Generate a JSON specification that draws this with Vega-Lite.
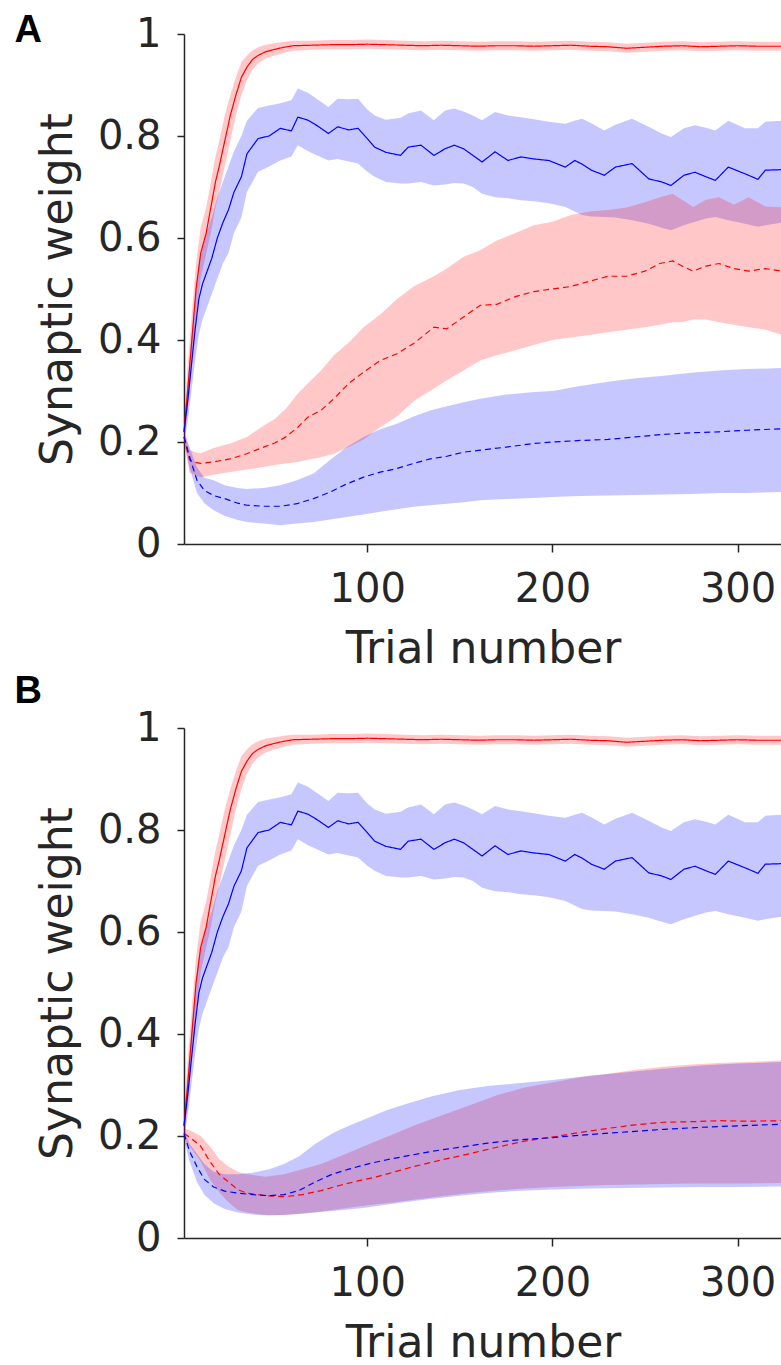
{
  "$schema": "https://vega.github.io/schema/vega-lite/v6.json",
  "background": "white",
  "padding": {"left": 14, "top": 12, "right": 0, "bottom": 0},
  "config": {
    "view": {"stroke": null},
    "concat": {"spacing": 2},
    "axis": {"labelFont": "DejaVu Sans", "labelFontSize": 40, "labelColor": "#262626", "titleFont": "DejaVu Sans", "titleFontSize": 44, "titleFontWeight": "normal", "titleColor": "#262626", "domainColor": "#262626", "tickColor": "#262626", "domainWidth": 1.5, "tickWidth": 1.5, "grid": false},
    "axisX": {"tickSize": 8, "labelPadding": 17, "titlePadding": 18},
    "axisY": {"tickSize": 7, "labelPadding": 16, "titlePadding": 17},
    "title": {"font": "Liberation Sans", "fontSize": 38, "fontWeight": "bold", "color": "black", "anchor": "start", "frame": "bounds"}
  },
  "datasets": {
    "d": [
      {"p":"both","g":"rs","c":"r","k":"s","x":1,"y":0.22,"lo":0.2,"hi":0.24},
      {"p":"both","g":"rs","c":"r","k":"s","x":3,"y":0.3,"lo":0.26,"hi":0.35},
      {"p":"both","g":"rs","c":"r","k":"s","x":5,"y":0.39,"lo":0.34,"hi":0.44},
      {"p":"both","g":"rs","c":"r","k":"s","x":7.5,"y":0.5,"lo":0.44,"hi":0.55},
      {"p":"both","g":"rs","c":"r","k":"s","x":10,"y":0.57,"lo":0.52,"hi":0.62},
      {"p":"both","g":"rs","c":"r","k":"s","x":13,"y":0.61,"lo":0.57,"hi":0.66},
      {"p":"both","g":"rs","c":"r","k":"s","x":15.5,"y":0.66,"lo":0.61,"hi":0.71},
      {"p":"both","g":"rs","c":"r","k":"s","x":18,"y":0.71,"lo":0.66,"hi":0.76},
      {"p":"both","g":"rs","c":"r","k":"s","x":20,"y":0.74,"lo":0.69,"hi":0.79},
      {"p":"both","g":"rs","c":"r","k":"s","x":23,"y":0.79,"lo":0.74,"hi":0.84},
      {"p":"both","g":"rs","c":"r","k":"s","x":26,"y":0.84,"lo":0.79,"hi":0.88},
      {"p":"both","g":"rs","c":"r","k":"s","x":29,"y":0.88,"lo":0.84,"hi":0.915},
      {"p":"both","g":"rs","c":"r","k":"s","x":32,"y":0.915,"lo":0.88,"hi":0.945},
      {"p":"both","g":"rs","c":"r","k":"s","x":35,"y":0.935,"lo":0.91,"hi":0.958},
      {"p":"both","g":"rs","c":"r","k":"s","x":38,"y":0.95,"lo":0.93,"hi":0.968},
      {"p":"both","g":"rs","c":"r","k":"s","x":41,"y":0.958,"lo":0.942,"hi":0.974},
      {"p":"both","g":"rs","c":"r","k":"s","x":45,"y":0.965,"lo":0.952,"hi":0.979},
      {"p":"both","g":"rs","c":"r","k":"s","x":50,"y":0.97,"lo":0.958,"hi":0.982},
      {"p":"both","g":"rs","c":"r","k":"s","x":55,"y":0.974,"lo":0.963,"hi":0.985},
      {"p":"both","g":"rs","c":"r","k":"s","x":60,"y":0.977,"lo":0.967,"hi":0.987},
      {"p":"both","g":"rs","c":"r","k":"s","x":70,"y":0.978,"lo":0.969,"hi":0.987},
      {"p":"both","g":"rs","c":"r","k":"s","x":80,"y":0.979,"lo":0.97,"hi":0.988},
      {"p":"both","g":"rs","c":"r","k":"s","x":90,"y":0.979,"lo":0.97,"hi":0.988},
      {"p":"both","g":"rs","c":"r","k":"s","x":100,"y":0.98,"lo":0.971,"hi":0.989},
      {"p":"both","g":"rs","c":"r","k":"s","x":110,"y":0.979,"lo":0.97,"hi":0.988},
      {"p":"both","g":"rs","c":"r","k":"s","x":120,"y":0.978,"lo":0.969,"hi":0.987},
      {"p":"both","g":"rs","c":"r","k":"s","x":130,"y":0.977,"lo":0.968,"hi":0.986},
      {"p":"both","g":"rs","c":"r","k":"s","x":140,"y":0.978,"lo":0.969,"hi":0.987},
      {"p":"both","g":"rs","c":"r","k":"s","x":150,"y":0.977,"lo":0.968,"hi":0.986},
      {"p":"both","g":"rs","c":"r","k":"s","x":160,"y":0.976,"lo":0.967,"hi":0.985},
      {"p":"both","g":"rs","c":"r","k":"s","x":170,"y":0.977,"lo":0.968,"hi":0.986},
      {"p":"both","g":"rs","c":"r","k":"s","x":180,"y":0.977,"lo":0.968,"hi":0.986},
      {"p":"both","g":"rs","c":"r","k":"s","x":190,"y":0.976,"lo":0.967,"hi":0.985},
      {"p":"both","g":"rs","c":"r","k":"s","x":200,"y":0.977,"lo":0.968,"hi":0.986},
      {"p":"both","g":"rs","c":"r","k":"s","x":210,"y":0.978,"lo":0.969,"hi":0.987},
      {"p":"both","g":"rs","c":"r","k":"s","x":220,"y":0.976,"lo":0.967,"hi":0.985},
      {"p":"both","g":"rs","c":"r","k":"s","x":230,"y":0.975,"lo":0.966,"hi":0.984},
      {"p":"both","g":"rs","c":"r","k":"s","x":240,"y":0.972,"lo":0.963,"hi":0.981},
      {"p":"both","g":"rs","c":"r","k":"s","x":250,"y":0.974,"lo":0.965,"hi":0.983},
      {"p":"both","g":"rs","c":"r","k":"s","x":260,"y":0.976,"lo":0.967,"hi":0.985},
      {"p":"both","g":"rs","c":"r","k":"s","x":270,"y":0.977,"lo":0.968,"hi":0.986},
      {"p":"both","g":"rs","c":"r","k":"s","x":280,"y":0.975,"lo":0.966,"hi":0.984},
      {"p":"both","g":"rs","c":"r","k":"s","x":290,"y":0.976,"lo":0.967,"hi":0.985},
      {"p":"both","g":"rs","c":"r","k":"s","x":300,"y":0.977,"lo":0.968,"hi":0.986},
      {"p":"both","g":"rs","c":"r","k":"s","x":310,"y":0.976,"lo":0.967,"hi":0.985},
      {"p":"both","g":"rs","c":"r","k":"s","x":324,"y":0.976,"lo":0.967,"hi":0.985},

      {"p":"both","g":"bs","c":"b","k":"s","x":1,"y":0.22,"lo":0.2,"hi":0.24},
      {"p":"both","g":"bs","c":"b","k":"s","x":3,"y":0.28,"lo":0.24,"hi":0.32},
      {"p":"both","g":"bs","c":"b","k":"s","x":5,"y":0.35,"lo":0.3,"hi":0.4},
      {"p":"both","g":"bs","c":"b","k":"s","x":7,"y":0.42,"lo":0.36,"hi":0.48},
      {"p":"both","g":"bs","c":"b","k":"s","x":9,"y":0.48,"lo":0.41,"hi":0.55},
      {"p":"both","g":"bs","c":"b","k":"s","x":11,"y":0.51,"lo":0.44,"hi":0.58},
      {"p":"both","g":"bs","c":"b","k":"s","x":13,"y":0.53,"lo":0.46,"hi":0.61},
      {"p":"both","g":"bs","c":"b","k":"s","x":16,"y":0.56,"lo":0.49,"hi":0.64},
      {"p":"both","g":"bs","c":"b","k":"s","x":19,"y":0.6,"lo":0.52,"hi":0.68},
      {"p":"both","g":"bs","c":"b","k":"s","x":22,"y":0.63,"lo":0.55,"hi":0.71},
      {"p":"both","g":"bs","c":"b","k":"s","x":25,"y":0.655,"lo":0.57,"hi":0.74},
      {"p":"both","g":"bs","c":"b","k":"s","x":28,"y":0.69,"lo":0.61,"hi":0.77},
      {"p":"both","g":"bs","c":"b","k":"s","x":32,"y":0.72,"lo":0.64,"hi":0.8},
      {"p":"both","g":"bs","c":"b","k":"s","x":35,"y":0.765,"lo":0.69,"hi":0.83},
      {"p":"both","g":"bs","c":"b","k":"s","x":41,"y":0.795,"lo":0.73,"hi":0.855},
      {"p":"both","g":"bs","c":"b","k":"s","x":47,"y":0.8,"lo":0.74,"hi":0.86},
      {"p":"both","g":"bs","c":"b","k":"s","x":53,"y":0.815,"lo":0.752,"hi":0.864},
      {"p":"both","g":"bs","c":"b","k":"s","x":59,"y":0.81,"lo":0.76,"hi":0.87},
      {"p":"both","g":"bs","c":"b","k":"s","x":62.5,"y":0.837,"lo":0.782,"hi":0.893},
      {"p":"both","g":"bs","c":"b","k":"s","x":68,"y":0.831,"lo":0.77,"hi":0.885},
      {"p":"both","g":"bs","c":"b","k":"s","x":73,"y":0.82,"lo":0.762,"hi":0.872},
      {"p":"both","g":"bs","c":"b","k":"s","x":79,"y":0.805,"lo":0.752,"hi":0.857},
      {"p":"both","g":"bs","c":"b","k":"s","x":84,"y":0.818,"lo":0.755,"hi":0.873},
      {"p":"both","g":"bs","c":"b","k":"s","x":90,"y":0.812,"lo":0.75,"hi":0.872},
      {"p":"both","g":"bs","c":"b","k":"s","x":95,"y":0.815,"lo":0.746,"hi":0.873},
      {"p":"both","g":"bs","c":"b","k":"s","x":100,"y":0.795,"lo":0.73,"hi":0.852},
      {"p":"both","g":"bs","c":"b","k":"s","x":104,"y":0.778,"lo":0.72,"hi":0.84},
      {"p":"both","g":"bs","c":"b","k":"s","x":110,"y":0.768,"lo":0.71,"hi":0.832},
      {"p":"both","g":"bs","c":"b","k":"s","x":118,"y":0.762,"lo":0.707,"hi":0.836},
      {"p":"both","g":"bs","c":"b","k":"s","x":122,"y":0.778,"lo":0.707,"hi":0.844},
      {"p":"both","g":"bs","c":"b","k":"s","x":129,"y":0.782,"lo":0.71,"hi":0.85},
      {"p":"both","g":"bs","c":"b","k":"s","x":136,"y":0.762,"lo":0.703,"hi":0.831},
      {"p":"both","g":"bs","c":"b","k":"s","x":142,"y":0.775,"lo":0.705,"hi":0.85},
      {"p":"both","g":"bs","c":"b","k":"s","x":147,"y":0.782,"lo":0.708,"hi":0.854},
      {"p":"both","g":"bs","c":"b","k":"s","x":152,"y":0.775,"lo":0.707,"hi":0.848},
      {"p":"both","g":"bs","c":"b","k":"s","x":157,"y":0.762,"lo":0.7,"hi":0.84},
      {"p":"both","g":"bs","c":"b","k":"s","x":162,"y":0.749,"lo":0.687,"hi":0.831},
      {"p":"both","g":"bs","c":"b","k":"s","x":169,"y":0.769,"lo":0.68,"hi":0.847},
      {"p":"both","g":"bs","c":"b","k":"s","x":176,"y":0.752,"lo":0.678,"hi":0.84},
      {"p":"both","g":"bs","c":"b","k":"s","x":183,"y":0.759,"lo":0.674,"hi":0.837},
      {"p":"both","g":"bs","c":"b","k":"s","x":190,"y":0.755,"lo":0.672,"hi":0.833},
      {"p":"both","g":"bs","c":"b","k":"s","x":198,"y":0.752,"lo":0.668,"hi":0.828},
      {"p":"both","g":"bs","c":"b","k":"s","x":207,"y":0.739,"lo":0.661,"hi":0.824},
      {"p":"both","g":"bs","c":"b","k":"s","x":212,"y":0.752,"lo":0.652,"hi":0.83},
      {"p":"both","g":"bs","c":"b","k":"s","x":216,"y":0.745,"lo":0.645,"hi":0.834},
      {"p":"both","g":"bs","c":"b","k":"s","x":221,"y":0.733,"lo":0.642,"hi":0.825},
      {"p":"both","g":"bs","c":"b","k":"s","x":228,"y":0.723,"lo":0.641,"hi":0.811},
      {"p":"both","g":"bs","c":"b","k":"s","x":234,"y":0.739,"lo":0.64,"hi":0.822},
      {"p":"both","g":"bs","c":"b","k":"s","x":243,"y":0.746,"lo":0.635,"hi":0.834},
      {"p":"both","g":"bs","c":"b","k":"s","x":252,"y":0.716,"lo":0.628,"hi":0.818},
      {"p":"both","g":"bs","c":"b","k":"s","x":259,"y":0.71,"lo":0.62,"hi":0.805},
      {"p":"both","g":"bs","c":"b","k":"s","x":264,"y":0.703,"lo":0.615,"hi":0.798},
      {"p":"both","g":"bs","c":"b","k":"s","x":271,"y":0.723,"lo":0.625,"hi":0.815},
      {"p":"both","g":"bs","c":"b","k":"s","x":277,"y":0.729,"lo":0.632,"hi":0.821},
      {"p":"both","g":"bs","c":"b","k":"s","x":283,"y":0.72,"lo":0.638,"hi":0.816},
      {"p":"both","g":"bs","c":"b","k":"s","x":288,"y":0.713,"lo":0.641,"hi":0.811},
      {"p":"both","g":"bs","c":"b","k":"s","x":295,"y":0.739,"lo":0.635,"hi":0.83},
      {"p":"both","g":"bs","c":"b","k":"s","x":304,"y":0.726,"lo":0.628,"hi":0.815},
      {"p":"both","g":"bs","c":"b","k":"s","x":311,"y":0.715,"lo":0.622,"hi":0.815},
      {"p":"both","g":"bs","c":"b","k":"s","x":315,"y":0.733,"lo":0.625,"hi":0.828},
      {"p":"both","g":"bs","c":"b","k":"s","x":324,"y":0.734,"lo":0.63,"hi":0.83},

      {"p":"A","g":"rd","c":"r","k":"d","x":1,"y":0.21,"lo":0.2,"hi":0.22},
      {"p":"A","g":"rd","c":"r","k":"d","x":4,"y":0.165,"lo":0.14,"hi":0.185},
      {"p":"A","g":"rd","c":"r","k":"d","x":7,"y":0.16,"lo":0.135,"hi":0.18},
      {"p":"A","g":"rd","c":"r","k":"d","x":10,"y":0.158,"lo":0.131,"hi":0.178},
      {"p":"A","g":"rd","c":"r","k":"d","x":17,"y":0.161,"lo":0.136,"hi":0.188},
      {"p":"A","g":"rd","c":"r","k":"d","x":26,"y":0.167,"lo":0.141,"hi":0.197},
      {"p":"A","g":"rd","c":"r","k":"d","x":35,"y":0.177,"lo":0.146,"hi":0.21},
      {"p":"A","g":"rd","c":"r","k":"d","x":44,"y":0.19,"lo":0.151,"hi":0.232},
      {"p":"A","g":"rd","c":"r","k":"d","x":50,"y":0.198,"lo":0.155,"hi":0.245},
      {"p":"A","g":"rd","c":"r","k":"d","x":56,"y":0.21,"lo":0.158,"hi":0.265},
      {"p":"A","g":"rd","c":"r","k":"d","x":62.5,"y":0.229,"lo":0.161,"hi":0.295},
      {"p":"A","g":"rd","c":"r","k":"d","x":68,"y":0.249,"lo":0.165,"hi":0.315},
      {"p":"A","g":"rd","c":"r","k":"d","x":75,"y":0.262,"lo":0.17,"hi":0.34},
      {"p":"A","g":"rd","c":"r","k":"d","x":82,"y":0.285,"lo":0.177,"hi":0.37},
      {"p":"A","g":"rd","c":"r","k":"d","x":90,"y":0.315,"lo":0.19,"hi":0.395},
      {"p":"A","g":"rd","c":"r","k":"d","x":98,"y":0.337,"lo":0.205,"hi":0.425},
      {"p":"A","g":"rd","c":"r","k":"d","x":107,"y":0.36,"lo":0.229,"hi":0.45},
      {"p":"A","g":"rd","c":"r","k":"d","x":116,"y":0.373,"lo":0.25,"hi":0.48},
      {"p":"A","g":"rd","c":"r","k":"d","x":125,"y":0.393,"lo":0.28,"hi":0.505},
      {"p":"A","g":"rd","c":"r","k":"d","x":136,"y":0.425,"lo":0.305,"hi":0.525},
      {"p":"A","g":"rd","c":"r","k":"d","x":143,"y":0.422,"lo":0.321,"hi":0.54},
      {"p":"A","g":"rd","c":"r","k":"d","x":152,"y":0.445,"lo":0.34,"hi":0.563},
      {"p":"A","g":"rd","c":"r","k":"d","x":161,"y":0.468,"lo":0.36,"hi":0.576},
      {"p":"A","g":"rd","c":"r","k":"d","x":170,"y":0.47,"lo":0.37,"hi":0.595},
      {"p":"A","g":"rd","c":"r","k":"d","x":180,"y":0.485,"lo":0.38,"hi":0.61},
      {"p":"A","g":"rd","c":"r","k":"d","x":190,"y":0.495,"lo":0.39,"hi":0.625},
      {"p":"A","g":"rd","c":"r","k":"d","x":200,"y":0.5,"lo":0.4,"hi":0.632},
      {"p":"A","g":"rd","c":"r","k":"d","x":210,"y":0.505,"lo":0.405,"hi":0.645},
      {"p":"A","g":"rd","c":"r","k":"d","x":220,"y":0.515,"lo":0.41,"hi":0.652},
      {"p":"A","g":"rd","c":"r","k":"d","x":230,"y":0.525,"lo":0.415,"hi":0.655},
      {"p":"A","g":"rd","c":"r","k":"d","x":240,"y":0.525,"lo":0.42,"hi":0.66},
      {"p":"A","g":"rd","c":"r","k":"d","x":250,"y":0.535,"lo":0.425,"hi":0.67},
      {"p":"A","g":"rd","c":"r","k":"d","x":258,"y":0.55,"lo":0.43,"hi":0.68},
      {"p":"A","g":"rd","c":"r","k":"d","x":265,"y":0.555,"lo":0.435,"hi":0.687},
      {"p":"A","g":"rd","c":"r","k":"d","x":270,"y":0.545,"lo":0.435,"hi":0.675},
      {"p":"A","g":"rd","c":"r","k":"d","x":276,"y":0.535,"lo":0.44,"hi":0.661},
      {"p":"A","g":"rd","c":"r","k":"d","x":283,"y":0.545,"lo":0.44,"hi":0.675},
      {"p":"A","g":"rd","c":"r","k":"d","x":290,"y":0.55,"lo":0.435,"hi":0.68},
      {"p":"A","g":"rd","c":"r","k":"d","x":298,"y":0.54,"lo":0.43,"hi":0.665},
      {"p":"A","g":"rd","c":"r","k":"d","x":306,"y":0.535,"lo":0.425,"hi":0.68},
      {"p":"A","g":"rd","c":"r","k":"d","x":315,"y":0.54,"lo":0.42,"hi":0.662},
      {"p":"A","g":"rd","c":"r","k":"d","x":324,"y":0.535,"lo":0.41,"hi":0.66},

      {"p":"A","g":"bd","c":"b","k":"d","x":1,"y":0.21,"lo":0.2,"hi":0.22},
      {"p":"A","g":"bd","c":"b","k":"d","x":4,"y":0.171,"lo":0.15,"hi":0.19},
      {"p":"A","g":"bd","c":"b","k":"d","x":8,"y":0.125,"lo":0.1,"hi":0.15},
      {"p":"A","g":"bd","c":"b","k":"d","x":12,"y":0.105,"lo":0.08,"hi":0.13},
      {"p":"A","g":"bd","c":"b","k":"d","x":17,"y":0.095,"lo":0.066,"hi":0.125},
      {"p":"A","g":"bd","c":"b","k":"d","x":23,"y":0.089,"lo":0.055,"hi":0.115},
      {"p":"A","g":"bd","c":"b","k":"d","x":30,"y":0.08,"lo":0.047,"hi":0.11},
      {"p":"A","g":"bd","c":"b","k":"d","x":35,"y":0.076,"lo":0.043,"hi":0.108},
      {"p":"A","g":"bd","c":"b","k":"d","x":44,"y":0.074,"lo":0.04,"hi":0.11},
      {"p":"A","g":"bd","c":"b","k":"d","x":53,"y":0.074,"lo":0.037,"hi":0.115},
      {"p":"A","g":"bd","c":"b","k":"d","x":62,"y":0.079,"lo":0.04,"hi":0.125},
      {"p":"A","g":"bd","c":"b","k":"d","x":71,"y":0.089,"lo":0.043,"hi":0.138},
      {"p":"A","g":"bd","c":"b","k":"d","x":80,"y":0.102,"lo":0.048,"hi":0.165},
      {"p":"A","g":"bd","c":"b","k":"d","x":89,"y":0.118,"lo":0.053,"hi":0.19},
      {"p":"A","g":"bd","c":"b","k":"d","x":98,"y":0.131,"lo":0.058,"hi":0.21},
      {"p":"A","g":"bd","c":"b","k":"d","x":107,"y":0.141,"lo":0.063,"hi":0.225},
      {"p":"A","g":"bd","c":"b","k":"d","x":116,"y":0.148,"lo":0.068,"hi":0.236},
      {"p":"A","g":"bd","c":"b","k":"d","x":125,"y":0.158,"lo":0.073,"hi":0.25},
      {"p":"A","g":"bd","c":"b","k":"d","x":134,"y":0.167,"lo":0.076,"hi":0.262},
      {"p":"A","g":"bd","c":"b","k":"d","x":143,"y":0.172,"lo":0.079,"hi":0.27},
      {"p":"A","g":"bd","c":"b","k":"d","x":152,"y":0.18,"lo":0.082,"hi":0.278},
      {"p":"A","g":"bd","c":"b","k":"d","x":161,"y":0.184,"lo":0.086,"hi":0.285},
      {"p":"A","g":"bd","c":"b","k":"d","x":175,"y":0.19,"lo":0.088,"hi":0.293},
      {"p":"A","g":"bd","c":"b","k":"d","x":190,"y":0.197,"lo":0.09,"hi":0.298},
      {"p":"A","g":"bd","c":"b","k":"d","x":200,"y":0.2,"lo":0.092,"hi":0.3},
      {"p":"A","g":"bd","c":"b","k":"d","x":215,"y":0.203,"lo":0.094,"hi":0.31},
      {"p":"A","g":"bd","c":"b","k":"d","x":230,"y":0.205,"lo":0.095,"hi":0.318},
      {"p":"A","g":"bd","c":"b","k":"d","x":245,"y":0.21,"lo":0.096,"hi":0.325},
      {"p":"A","g":"bd","c":"b","k":"d","x":260,"y":0.215,"lo":0.097,"hi":0.33},
      {"p":"A","g":"bd","c":"b","k":"d","x":275,"y":0.218,"lo":0.098,"hi":0.336},
      {"p":"A","g":"bd","c":"b","k":"d","x":290,"y":0.22,"lo":0.1,"hi":0.34},
      {"p":"A","g":"bd","c":"b","k":"d","x":305,"y":0.223,"lo":0.1,"hi":0.343},
      {"p":"A","g":"bd","c":"b","k":"d","x":324,"y":0.226,"lo":0.102,"hi":0.345},

      {"p":"B","g":"rd","c":"r","k":"d","x":1,"y":0.205,"lo":0.195,"hi":0.215},
      {"p":"B","g":"rd","c":"r","k":"d","x":5,"y":0.195,"lo":0.175,"hi":0.21},
      {"p":"B","g":"rd","c":"r","k":"d","x":10,"y":0.18,"lo":0.15,"hi":0.2},
      {"p":"B","g":"rd","c":"r","k":"d","x":15,"y":0.15,"lo":0.115,"hi":0.18},
      {"p":"B","g":"rd","c":"r","k":"d","x":20,"y":0.125,"lo":0.09,"hi":0.155},
      {"p":"B","g":"rd","c":"r","k":"d","x":25,"y":0.11,"lo":0.07,"hi":0.14},
      {"p":"B","g":"rd","c":"r","k":"d","x":30,"y":0.095,"lo":0.055,"hi":0.13},
      {"p":"B","g":"rd","c":"r","k":"d","x":35,"y":0.088,"lo":0.05,"hi":0.125},
      {"p":"B","g":"rd","c":"r","k":"d","x":45,"y":0.083,"lo":0.045,"hi":0.12},
      {"p":"B","g":"rd","c":"r","k":"d","x":55,"y":0.081,"lo":0.045,"hi":0.125},
      {"p":"B","g":"rd","c":"r","k":"d","x":65,"y":0.085,"lo":0.048,"hi":0.135},
      {"p":"B","g":"rd","c":"r","k":"d","x":75,"y":0.093,"lo":0.052,"hi":0.145},
      {"p":"B","g":"rd","c":"r","k":"d","x":85,"y":0.103,"lo":0.057,"hi":0.16},
      {"p":"B","g":"rd","c":"r","k":"d","x":95,"y":0.112,"lo":0.062,"hi":0.175},
      {"p":"B","g":"rd","c":"r","k":"d","x":105,"y":0.12,"lo":0.066,"hi":0.19},
      {"p":"B","g":"rd","c":"r","k":"d","x":115,"y":0.13,"lo":0.07,"hi":0.205},
      {"p":"B","g":"rd","c":"r","k":"d","x":125,"y":0.14,"lo":0.075,"hi":0.22},
      {"p":"B","g":"rd","c":"r","k":"d","x":140,"y":0.153,"lo":0.082,"hi":0.24},
      {"p":"B","g":"rd","c":"r","k":"d","x":155,"y":0.165,"lo":0.088,"hi":0.26},
      {"p":"B","g":"rd","c":"r","k":"d","x":170,"y":0.178,"lo":0.093,"hi":0.28},
      {"p":"B","g":"rd","c":"r","k":"d","x":185,"y":0.19,"lo":0.097,"hi":0.295},
      {"p":"B","g":"rd","c":"r","k":"d","x":200,"y":0.198,"lo":0.1,"hi":0.305},
      {"p":"B","g":"rd","c":"r","k":"d","x":215,"y":0.207,"lo":0.102,"hi":0.315},
      {"p":"B","g":"rd","c":"r","k":"d","x":230,"y":0.215,"lo":0.104,"hi":0.322},
      {"p":"B","g":"rd","c":"r","k":"d","x":245,"y":0.222,"lo":0.105,"hi":0.33},
      {"p":"B","g":"rd","c":"r","k":"d","x":260,"y":0.227,"lo":0.106,"hi":0.336},
      {"p":"B","g":"rd","c":"r","k":"d","x":275,"y":0.228,"lo":0.107,"hi":0.34},
      {"p":"B","g":"rd","c":"r","k":"d","x":290,"y":0.23,"lo":0.107,"hi":0.343},
      {"p":"B","g":"rd","c":"r","k":"d","x":305,"y":0.229,"lo":0.107,"hi":0.345},
      {"p":"B","g":"rd","c":"r","k":"d","x":324,"y":0.23,"lo":0.108,"hi":0.348},

      {"p":"B","g":"bd","c":"b","k":"d","x":1,"y":0.205,"lo":0.195,"hi":0.215},
      {"p":"B","g":"bd","c":"b","k":"d","x":4,"y":0.17,"lo":0.15,"hi":0.185},
      {"p":"B","g":"bd","c":"b","k":"d","x":8,"y":0.14,"lo":0.11,"hi":0.165},
      {"p":"B","g":"bd","c":"b","k":"d","x":12,"y":0.115,"lo":0.085,"hi":0.145},
      {"p":"B","g":"bd","c":"b","k":"d","x":17,"y":0.1,"lo":0.068,"hi":0.13},
      {"p":"B","g":"bd","c":"b","k":"d","x":23,"y":0.092,"lo":0.057,"hi":0.125},
      {"p":"B","g":"bd","c":"b","k":"d","x":30,"y":0.088,"lo":0.05,"hi":0.125},
      {"p":"B","g":"bd","c":"b","k":"d","x":38,"y":0.085,"lo":0.046,"hi":0.128},
      {"p":"B","g":"bd","c":"b","k":"d","x":47,"y":0.083,"lo":0.044,"hi":0.135},
      {"p":"B","g":"bd","c":"b","k":"d","x":55,"y":0.085,"lo":0.045,"hi":0.145},
      {"p":"B","g":"bd","c":"b","k":"d","x":63,"y":0.093,"lo":0.047,"hi":0.16},
      {"p":"B","g":"bd","c":"b","k":"d","x":72,"y":0.11,"lo":0.05,"hi":0.185},
      {"p":"B","g":"bd","c":"b","k":"d","x":81,"y":0.125,"lo":0.053,"hi":0.205},
      {"p":"B","g":"bd","c":"b","k":"d","x":90,"y":0.135,"lo":0.056,"hi":0.22},
      {"p":"B","g":"bd","c":"b","k":"d","x":100,"y":0.145,"lo":0.06,"hi":0.235},
      {"p":"B","g":"bd","c":"b","k":"d","x":110,"y":0.153,"lo":0.065,"hi":0.25},
      {"p":"B","g":"bd","c":"b","k":"d","x":120,"y":0.16,"lo":0.07,"hi":0.262},
      {"p":"B","g":"bd","c":"b","k":"d","x":135,"y":0.17,"lo":0.077,"hi":0.278},
      {"p":"B","g":"bd","c":"b","k":"d","x":150,"y":0.178,"lo":0.083,"hi":0.29},
      {"p":"B","g":"bd","c":"b","k":"d","x":165,"y":0.186,"lo":0.088,"hi":0.298},
      {"p":"B","g":"bd","c":"b","k":"d","x":180,"y":0.192,"lo":0.092,"hi":0.303},
      {"p":"B","g":"bd","c":"b","k":"d","x":200,"y":0.197,"lo":0.095,"hi":0.31},
      {"p":"B","g":"bd","c":"b","k":"d","x":220,"y":0.203,"lo":0.097,"hi":0.318},
      {"p":"B","g":"bd","c":"b","k":"d","x":240,"y":0.208,"lo":0.098,"hi":0.325},
      {"p":"B","g":"bd","c":"b","k":"d","x":260,"y":0.213,"lo":0.099,"hi":0.332},
      {"p":"B","g":"bd","c":"b","k":"d","x":280,"y":0.217,"lo":0.1,"hi":0.338},
      {"p":"B","g":"bd","c":"b","k":"d","x":300,"y":0.22,"lo":0.1,"hi":0.342},
      {"p":"B","g":"bd","c":"b","k":"d","x":324,"y":0.223,"lo":0.101,"hi":0.345}
    ]
  },
  "vconcat": [
    {
      "title": {"text": "A", "dx": -22, "offset": -36},
      "width": 598,
      "height": 510,
      "data": {"name": "d"},
      "transform": [{"filter": "datum.p === 'A' || datum.p === 'both'"}],
      "encoding": {
        "x": {"field": "x", "type": "quantitative", "scale": {"domain": [1, 324], "nice": false, "zero": false}, "axis": {"values": [100, 200, 300], "title": "Trial number"}},
        "color": {"field": "c", "type": "nominal", "scale": {"domain": ["r", "b"], "range": ["#ff0000", "#0000ff"]}, "legend": null},
        "detail": {"field": "g"}
      },
      "layer": [
        {
          "mark": {"type": "area", "opacity": 0.22},
          "encoding": {
            "y": {"field": "lo", "type": "quantitative", "scale": {"domain": [0, 1], "nice": false}, "axis": {"values": [0, 0.2, 0.4, 0.6, 0.8, 1], "format": "~g", "title": "Synaptic weight"}},
            "y2": {"field": "hi"}
          }
        },
        {
          "mark": {"type": "line", "strokeWidth": 1.2},
          "encoding": {
            "y": {"field": "y", "type": "quantitative", "axis": {"values": [0, 0.2, 0.4, 0.6, 0.8, 1], "format": "~g", "title": "Synaptic weight"}},
            "strokeDash": {"field": "k", "type": "nominal", "scale": {"domain": ["s", "d"], "range": [[1, 0], [6, 4]]}, "legend": null}
          }
        }
      ]
    },
    {
      "title": {"text": "B", "dx": -22, "offset": -3},
      "width": 598,
      "height": 510,
      "data": {"name": "d"},
      "transform": [{"filter": "datum.p === 'B' || datum.p === 'both'"}],
      "encoding": {
        "x": {"field": "x", "type": "quantitative", "scale": {"domain": [1, 324], "nice": false, "zero": false}, "axis": {"values": [100, 200, 300], "title": "Trial number"}},
        "color": {"field": "c", "type": "nominal", "scale": {"domain": ["r", "b"], "range": ["#ff0000", "#0000ff"]}, "legend": null},
        "detail": {"field": "g"}
      },
      "layer": [
        {
          "mark": {"type": "area", "opacity": 0.22},
          "encoding": {
            "y": {"field": "lo", "type": "quantitative", "scale": {"domain": [0, 1], "nice": false}, "axis": {"values": [0, 0.2, 0.4, 0.6, 0.8, 1], "format": "~g", "title": "Synaptic weight"}},
            "y2": {"field": "hi"}
          }
        },
        {
          "mark": {"type": "line", "strokeWidth": 1.2},
          "encoding": {
            "y": {"field": "y", "type": "quantitative", "axis": {"values": [0, 0.2, 0.4, 0.6, 0.8, 1], "format": "~g", "title": "Synaptic weight"}},
            "strokeDash": {"field": "k", "type": "nominal", "scale": {"domain": ["s", "d"], "range": [[1, 0], [6, 4]]}, "legend": null}
          }
        }
      ]
    }
  ]
}
